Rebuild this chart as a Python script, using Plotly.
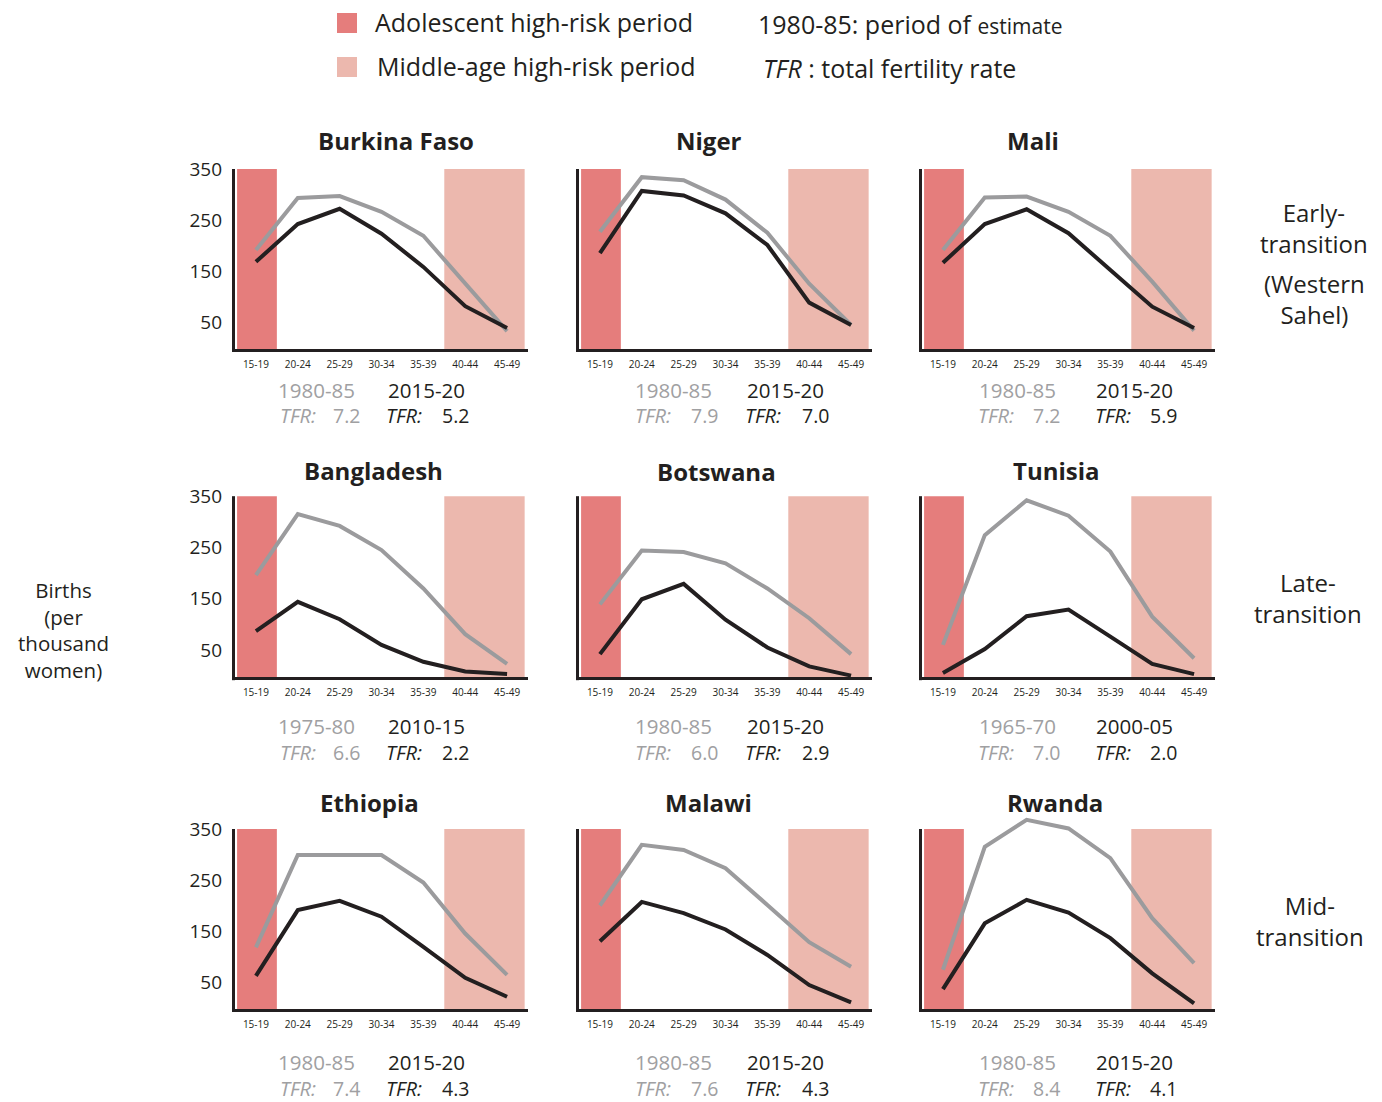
import plotly.graph_objects as go

# ---------------- data ----------------
ages = ["15-19", "20-24", "25-29", "30-34", "35-39", "40-44", "45-49"]
countries = ["Burkina Faso", "Niger", "Mali",
             "Bangladesh", "Botswana", "Tunisia",
             "Ethiopia", "Malawi", "Rwanda"]

burkina_early = [191, 293, 297, 266, 219, 125, 32]
burkina_late = [168, 242, 272, 223, 158, 81, 38]
niger_early = [227, 334, 328, 290, 225, 125, 44]
niger_late = [185, 307, 298, 263, 201, 88, 44]
mali_early = [191, 294, 296, 266, 219, 129, 33]
mali_late = [166, 242, 271, 224, 152, 80, 38]
bangladesh_early = [196, 315, 292, 245, 170, 81, 23]
bangladesh_late = [87, 144, 110, 60, 27, 8, 3]
botswana_early = [139, 244, 241, 219, 170, 112, 42]
botswana_late = [42, 149, 179, 109, 55, 18, 0]
tunisia_early = [60, 274, 342, 312, 242, 115, 34]
tunisia_late = [5, 52, 116, 129, 76, 23, 3]
ethiopia_early = [118, 299, 299, 299, 245, 145, 64]
ethiopia_late = [62, 191, 209, 178, 119, 58, 21]
malawi_early = [200, 319, 309, 273, 201, 128, 80]
malawi_late = [130, 207, 185, 153, 103, 44, 10]
rwanda_early = [74, 315, 368, 351, 293, 175, 87]
rwanda_late = [36, 165, 211, 186, 136, 67, 8]

early_series = [burkina_early, niger_early, mali_early, bangladesh_early, botswana_early,
                tunisia_early, ethiopia_early, malawi_early, rwanda_early]
late_series = [burkina_late, niger_late, mali_late, bangladesh_late, botswana_late,
               tunisia_late, ethiopia_late, malawi_late, rwanda_late]

early_periods = ["1980-85", "1980-85", "1980-85", "1975-80", "1980-85", "1965-70",
                 "1980-85", "1980-85", "1980-85"]
late_periods = ["2015-20", "2015-20", "2015-20", "2010-15", "2015-20", "2000-05",
                "2015-20", "2015-20", "2015-20"]
early_tfr = ["7.2", "7.9", "7.2", "6.6", "6.0", "7.0", "7.4", "7.6", "8.4"]
late_tfr = ["5.2", "7.0", "5.9", "2.2", "2.9", "2.0", "4.3", "4.3", "4.1"]

y_ticks = [50, 150, 250, 350]
row_labels = ["Early-<br>transition", "(Western<br>Sahel)",
              "Late-<br>transition", "Mid-<br>transition"]
y_title = "Births<br>(per<br>thousand<br>women)"

# ---------------- style / layout ----------------
W, H = 1382, 1102
FONT = "Open Sans"
BLACK = "#231F20"
GRAY_LINE = "#9B9B9D"
GRAY_TEXT = "#A0A0A2"
ADOL = "#E57D7C"
MID = "#ECB8AE"

col_px = [(235, 528), (579, 872), (922, 1215)]
# (pixel of y=-3, pixel of y=380) per row
row_px = [(349.0, 153.7), (677.2, 480.8), (1009.0, 813.7)]
YR = [-3, 380]
XR = [-0.5, 6.5]

title_pos = [(396, 141), (709, 141), (1033, 141),
             (373, 470), (716, 471), (1056, 470),
             (369, 802), (708, 802), (1055, 802)]
col_gray_center = [316, 673, 1017]
col_black_center = [427, 785, 1134]
col_gray_tfr_right = [318, 673, 1016]
col_gray_val_left = [331, 689, 1031]
col_black_tfr_left = [384, 743, 1093]
col_black_val_left = [440, 800, 1148]
row_period_y = [390, 726, 1062]
row_tfr_y = [416, 752, 1088]
row_label_pos = [(1314, 228), (1314, 299), (1308, 598), (1310, 921)]


def px(x):
    return x / W


def py(y):
    return 1 - y / H


def data_to_py(row, v):
    bot, top = row_px[row]
    return bot + (v - YR[0]) / (YR[1] - YR[0]) * (top - bot)


fig = go.Figure()
layout = {}
shapes = []
annotations = []


def note(text, x, y, size, color=BLACK, xanchor="center"):
    annotations.append(dict(text=text, x=px(x), y=py(y), xref="paper", yref="paper",
                            xanchor=xanchor, yanchor="middle", showarrow=False,
                            font=dict(family=FONT, size=size, color=color)))


for i, name in enumerate(countries):
    r, c = divmod(i, 3)
    k = i + 1
    xa = "x" if k == 1 else f"x{k}"
    ya = "y" if k == 1 else f"y{k}"
    xkey = "xaxis" if k == 1 else f"xaxis{k}"
    ykey = "yaxis" if k == 1 else f"yaxis{k}"
    x0, x1 = col_px[c]
    bot, top = row_px[r]
    layout[xkey] = dict(domain=[px(x0), px(x1)], range=XR, anchor=ya,
                        tickmode="array", tickvals=list(range(len(ages))), ticktext=ages,
                        showgrid=False, zeroline=False, showline=True, linecolor=BLACK,
                        linewidth=3, ticks="", ticklabelstandoff=4,
                        tickfont=dict(family=FONT, size=10, color=BLACK), fixedrange=True)
    layout[ykey] = dict(domain=[py(bot), py(top)], range=YR, anchor=xa,
                        tickmode="array", tickvals=y_ticks,
                        showticklabels=(c == 0), showgrid=False, zeroline=False,
                        showline=False, ticks="", ticklabelstandoff=12,
                        tickfont=dict(family=FONT, size=19, color=BLACK), fixedrange=True)
    # shaded risk periods
    shapes.append(dict(type="rect", xref=xa, yref=ya, x0=-0.45, x1=0.5, y0=YR[0], y1=350,
                       fillcolor=ADOL, line=dict(width=0), layer="below"))
    shapes.append(dict(type="rect", xref=xa, yref=ya, x0=4.5, x1=6.42, y0=YR[0], y1=350,
                       fillcolor=MID, line=dict(width=0), layer="below"))
    # y axis line from bottom to 350
    shapes.append(dict(type="line", xref="paper", yref="paper", x0=px(x0 - 1.5), x1=px(x0 - 1.5),
                       y0=py(bot + 3), y1=py(data_to_py(r, 350)),
                       line=dict(color=BLACK, width=3)))

    fig.add_trace(go.Scatter(x=list(range(len(ages))), y=early_series[i], xaxis=xa, yaxis=ya,
                             mode="lines", line=dict(color=GRAY_LINE, width=4),
                             showlegend=False, hoverinfo="skip"))
    fig.add_trace(go.Scatter(x=list(range(len(ages))), y=late_series[i], xaxis=xa, yaxis=ya,
                             mode="lines", line=dict(color=BLACK, width=4),
                             showlegend=False, hoverinfo="skip"))

    tx, ty = title_pos[i]
    note(f"<b>{name}</b>", tx, ty, 24)
    note(early_periods[i], col_gray_center[c], row_period_y[r], 20.5, GRAY_TEXT)
    note(late_periods[i], col_black_center[c], row_period_y[r], 20.5)
    note("<i>TFR:</i>", col_gray_tfr_right[c], row_tfr_y[r], 20, GRAY_TEXT, "right")
    note(early_tfr[i], col_gray_val_left[c], row_tfr_y[r], 19.5, GRAY_TEXT, "left")
    note("<i>TFR:</i>", col_black_tfr_left[c], row_tfr_y[r], 20, BLACK, "left")
    note(late_tfr[i], col_black_val_left[c], row_tfr_y[r], 19.5, BLACK, "left")

# legend (top)
shapes.append(dict(type="rect", xref="paper", yref="paper", x0=px(337), x1=px(357),
                   y0=py(33), y1=py(13), fillcolor=ADOL, line=dict(width=0)))
shapes.append(dict(type="rect", xref="paper", yref="paper", x0=px(337), x1=px(357),
                   y0=py(77), y1=py(57), fillcolor=MID, line=dict(width=0)))
note("Adolescent high-risk period", 373, 22, 25, BLACK, "left")
note("Middle-age high-risk period", 375, 66, 25, BLACK, "left")
note("1980-85: period of <span style='font-size:21px'>estimate</span>", 756, 24, 25, BLACK, "left")
note("<i>TFR</i> : total fertility rate", 761, 68, 25, BLACK, "left")

# row labels on the right
for t, (x, y) in zip(row_labels, row_label_pos):
    note(t, x, y, 24)

# y title on the left
note(y_title, 63, 630, 20.5)

fig.update_layout(width=W, height=H, margin=dict(l=0, r=0, t=0, b=0),
                  paper_bgcolor="white", plot_bgcolor="rgba(0,0,0,0)",
                  shapes=shapes, annotations=annotations, showlegend=False,
                  font=dict(family=FONT, color=BLACK), **layout)

fig.write_html("out.html", config={"displayModeBar": False},
               post_script="document.body.style.margin='0';document.body.style.overflow='hidden';")
